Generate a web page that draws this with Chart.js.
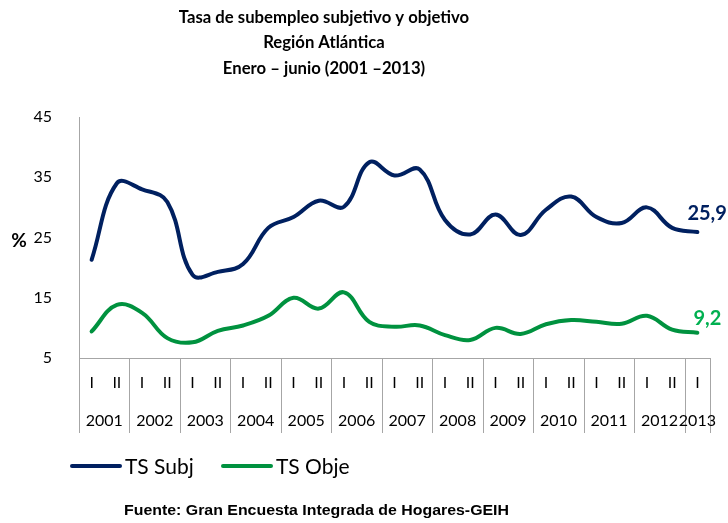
<!DOCTYPE html>
<html>
<head>
<meta charset="utf-8">
<script src="https://cdn.jsdelivr.net/npm/chart.js@4/dist/chart.umd.min.js"></script>
<style>
  html, body { margin: 0; padding: 0; background: #fff; }
  #wrap { width: 728px; height: 523px; }
</style>
</head>
<body>
<div id="wrap"><canvas id="chart" width="728" height="523"></canvas></div>
<script>
// =========================
// DATA
// =========================
const periods = ["I", "II", "I", "II", "I", "II", "I", "II", "I", "II", "I", "II", "I",
                 "II", "I", "II", "I", "II", "I", "II", "I", "II", "I", "II", "I"];
const years = ["2001", "2002", "2003", "2004", "2005", "2006", "2007",
               "2008", "2009", "2010", "2011", "2012", "2013"];
const tsSubj = [21.3, 34.0, 33.0, 30.9, 18.8, 19.3, 20.6, 26.6, 28.4, 31.1, 30.1, 37.5, 35.3,
                36.3, 27.9, 25.5, 28.8, 25.4, 29.6, 31.8, 28.4, 27.4, 30.0, 26.6, 25.9];
const tsObje = [9.4, 13.8, 12.5, 8.3, 7.6, 9.5, 10.4, 12.0, 15.0, 13.2, 15.9, 11.0, 10.2,
                10.4, 8.8, 8.0, 10.0, 9.0, 10.6, 11.3, 11.0, 10.7, 12.0, 9.7, 9.2];
const lastLabels = ["25,9", "9,2"];
const titleLines = ["Tasa de subempleo subjetivo y objetivo", "Región Atlántica", "Enero – junio (2001 –2013)"];
const sourceText = "Fuente: Gran Encuesta Integrada de Hogares-GEIH";

const BLUE = "#002060";
const GREEN = "#00923F";
const GREEN_LABEL = "#00B050";
const AXIS = "#a6a6a6";
const FONT = "Lato, 'Open Sans', sans-serif";

// =========================
// EXTRA DRAWING (titles, two-level axis, legend, labels)
// =========================
const decorations = {
    id: "decorations",
    afterDraw(chart) {
        const ctx = chart.ctx;
        const x = chart.scales.x;
        const area = chart.chartArea;
        ctx.save();

        // title
        ctx.fillStyle = "#000";
        ctx.textAlign = "center";
        ctx.textBaseline = "middle";
        ctx.font = "bold 16.7px " + FONT;
        const titleY = [18, 43, 69];
        titleLines.forEach((t, i) => ctx.fillText(t, 324, titleY[i]));

        // y axis title
        ctx.font = "bold 19px " + FONT;
        ctx.fillText("%", 19, 241);

        // separators between years
        ctx.strokeStyle = AXIS;
        ctx.lineWidth = 1;
        const bounds = [];
        for (let i = 0; i < periods.length; i += 2) bounds.push(i);
        bounds.push(periods.length);
        bounds.forEach(i => {
            const px = Math.round(x.getPixelForValue(i - 0.5)) + 0.5;
            ctx.beginPath();
            ctx.moveTo(px, area.bottom);
            ctx.lineTo(px, area.bottom + 75);
            ctx.stroke();
        });

        // period labels
        ctx.fillStyle = "#000";
        ctx.font = "16px " + FONT;
        periods.forEach((p, i) => ctx.fillText(p, x.getPixelForValue(i), area.bottom + 25));

        // year labels
        years.forEach((y, k) => {
            const a = x.getPixelForValue(2 * k - 0.5);
            const b = x.getPixelForValue(Math.min(2 * k + 2, periods.length) - 0.5);
            ctx.fillText(y, (a + b) / 2, area.bottom + 63);
        });

        // legend
        const legend = [["TS Subj", BLUE, 72], ["TS Obje", GREEN, 223]];
        ctx.textAlign = "left";
        ctx.font = "21px " + FONT;
        ctx.lineCap = "round";
        legend.forEach(([t, c, lx]) => {
            ctx.strokeStyle = c;
            ctx.lineWidth = 4;
            ctx.beginPath();
            ctx.moveTo(lx, 466);
            ctx.lineTo(lx + 48, 466);
            ctx.stroke();
            ctx.fillStyle = "#000";
            ctx.fillText(t, lx + 53, 467);
        });

        // last values
        ctx.font = "bold 20px " + FONT;
        const m0 = chart.getDatasetMeta(0).data[tsSubj.length - 1];
        const m1 = chart.getDatasetMeta(1).data[tsObje.length - 1];
        ctx.fillStyle = BLUE;
        ctx.fillText(lastLabels[0], m0.x - 10, m0.y - 19);
        ctx.fillStyle = GREEN_LABEL;
        ctx.fillText(lastLabels[1], m1.x - 4, m1.y - 14);

        // source (slightly wide face, stretched to the reference width)
        ctx.fillStyle = "#000";
        ctx.font = "bold 15px 'Liberation Sans', Arial, sans-serif";
        const w = ctx.measureText(sourceText).width;
        ctx.translate(124, 511);
        ctx.scale(385 / w, 1);
        ctx.fillText(sourceText, 0, 0);

        ctx.restore();
    }
};

// =========================
// LINE CHART
// =========================
new Chart(document.getElementById("chart"), {
    type: "line",
    data: {
        labels: periods,
        datasets: [{
            label: "TS Subj",
            data: tsSubj,
            borderColor: BLUE,
            backgroundColor: BLUE,
            borderWidth: 4,
            borderCapStyle: "round",
            pointRadius: 0,
            tension: .4,
            fill: false
        }, {
            label: "TS Obje",
            data: tsObje,
            borderColor: GREEN,
            backgroundColor: GREEN,
            borderWidth: 4,
            borderCapStyle: "round",
            pointRadius: 0,
            tension: .4,
            fill: false
        }]
    },
    options: {
        responsive: false,
        animation: false,
        layout: { padding: { left: 0, top: 117, right: 18, bottom: 0 } },
        plugins: {
            legend: { display: false },
            title: { display: false },
            tooltip: { enabled: false }
        },
        scales: {
            x: {
                type: "category",
                offset: true,
                grid: { display: false },
                border: { display: true, color: AXIS, width: 1 },
                ticks: { display: false },
                afterFit: s => { s.height = 165; }
            },
            y: {
                min: 5,
                max: 45,
                grid: { display: false },
                border: { display: true, color: AXIS, width: 1 },
                ticks: {
                    stepSize: 10,
                    color: "#000",
                    padding: 19,
                    font: { family: FONT, size: 16 }
                },
                afterFit: s => { s.width = 79; }
            }
        }
    },
    plugins: [decorations]
});
</script>
</body>
</html>
